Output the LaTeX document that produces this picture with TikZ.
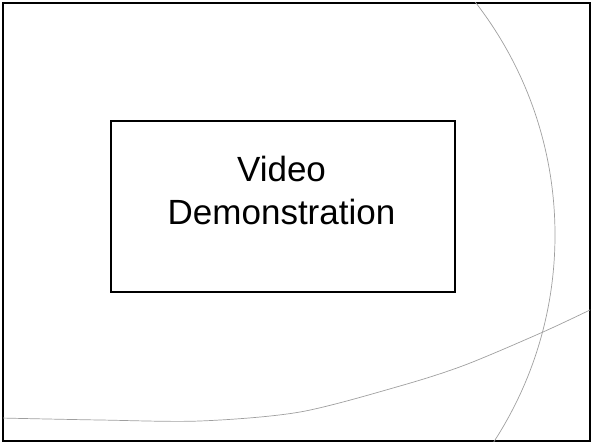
\documentclass[tikz,border=0pt]{standalone}
\usepackage{fontspec}
\setmainfont{Liberation Sans}
\usetikzlibrary{calc}

\begin{document}
\begin{tikzpicture}[x=1pt,y=-1pt,every text node part/.style={align=center}]
		\tikzstyle{slide}=[draw,line width=2.5pt]
		\tikzstyle{box}=[draw,line width=2pt]
		\tikzstyle{swoosh}=[draw=gray!75,line width=0.7pt]

		\useasboundingbox (0,0) rectangle (592,444);

		% frame
		\draw[slide] (3,3) rectangle (590,441);

		% box
		\draw[box] (110.5,120.5) rectangle (454.5,291.5);
		\node[font=\fontsize{35}{43.4}\selectfont] (title) at (281.5,190.5) {Video\\Demonstration};

		% swooshes
		\begin{scope}
			\clip (3,3) rectangle (590,441);
			\draw[swoosh] (175,235) circle (380pt);
			\draw[swoosh] plot[smooth] coordinates {(0,418) (100,420) (200,421) (300,412) (400,386) (465,365) (543,332) (592,309)};
		\end{scope}

	\end{tikzpicture}
\end{document}
